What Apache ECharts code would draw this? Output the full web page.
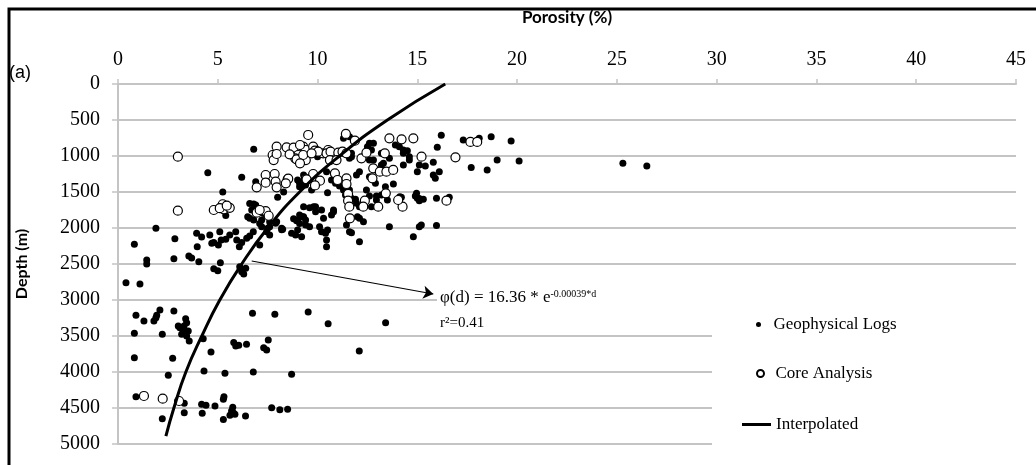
<!DOCTYPE html>
<html><head><meta charset="utf-8">
<script src="https://cdn.jsdelivr.net/npm/echarts@6/dist/echarts.min.js"></script>
<style>html,body{margin:0;padding:0;background:#fff}#c{width:1036px;height:465px}</style>
</head><body><div id="c"></div>
<script>
// [porosity %, depth m]
const geoLogs = [
[6.8,907],[9.9,894],[11.3,755],[11.6,731],[12.6,824],[12.5,870],[12.8,824],[12.7,916],[13.9,847],[14.1,870],[14.3,916],[14.5,926],[14.3,963],[16.2,712],[16.0,878],[17.3,778],[18.1,755],[18.7,731],[19.7,792],[11.7,963],[13.2,963],[10.0,1009],[11.7,1009],[14.6,1009],
[11.6,1032],[12.6,1056],[12.8,1056],[13.3,1102],[13.6,1032],[14.6,1056],[14.3,1125],[13.2,1125],[15.1,1125],[15.4,1139],[15.8,1088],[16.1,1218],[15.8,1264],[15.9,1310],[15.0,1218],[17.7,1160],[18.5,1194],[19.0,1056],[20.1,1070],[25.3,1102],[26.5,1139],[4.5,1231],[6.2,1296],[6.9,1357],[7.45,1347],[12.1,1218],[11.95,1264],[10.45,1218],[10.8,1241],[9.3,1264],[12.6,1287],[9.0,1333],
[9.4,1403],[9.1,1380],[9.1,1426],[10.7,1333],[10.9,1380],[11.1,1417],[11.3,1472],[11.5,1417],[11.6,1472],[11.9,1602],[10.5,1509],[5.25,1500],[8.0,1574],[8.3,1500],[12.45,1472],[12.6,1556],[12.95,1556],[13.5,1611],[14.2,1574],[14.9,1556],[15.0,1588],[15.1,1620],[15.3,1602],[15.1,1590],[16.6,1574],[6.8,1667],[12.9,1380],[13.4,1426],[13.8,1389],[13.2,1542],[12.95,1611],[14.12,1565],[14.96,1519],[15.96,1588],[9.7,1472],[11.4,1542],[11.7,1588],[11.95,1657],[12.7,1704],[12.1,1704],
[9.8,1704],[9.6,1718],[10.2,1750],[10.8,1750],[9.3,1704],[9.9,1704],[9.9,1773],[10.8,1773],[10.7,1820],[9.1,1820],[9.3,1843],[9.0,1889],[9.4,1958],[9.0,2028],[8.9,2097],[9.2,2120],[10.1,1982],[10.2,2051],[10.4,2074],[10.45,2167],[10.45,2259],[10.3,1866],[10.5,2028],[5.4,1825],[6.6,1866],[7.2,1889],[7.6,1981],[7.9,1935],[8.25,2019],[8.8,1870],[8.95,1898],[6.6,1658],[6.9,1681],[6.7,1750],[6.9,1796],[6.5,1843],[7.2,1982],[7.6,1912],[7.0,1750],[6.8,1889],[7.3,1797],[7.1,1936],[7.95,1912],[8.2,2023],[9.25,1843],[9.1,1936],[9.4,1889],[9.6,1982],[12.0,1843],[12.1,1866],[12.3,1912],[11.45,1958],[11.6,2051],[11.7,2065],[13.6,1982],[15.1,1982],[15.2,1958],[15.96,1967],[14.8,2120],[12.1,2190],
[1.9,2005],[0.82,2227],[1.44,2445],[1.44,2500],[0.4,2760],[1.1,2778],[2.85,2150],[2.8,2426],[3.55,2389],[3.69,2415],[4.05,2468],[3.94,2074],[4.19,2125],[3.97,2259],[4.6,2097],[4.8,2200],[5.1,2051],[5.17,2167],[5.4,2157],[5.03,2236],[4.7,2213],[5.9,2051],[5.95,2167],[6.2,2200],[6.08,2259],[6.45,2144],[6.78,2051],[7.45,2051],[7.6,2097],[7.5,2005],[6.6,2111],[7.1,2236],[4.8,2565],[5.0,2593],[5.13,2481],[6.1,2537],[6.2,2607],[6.4,2560],[6.3,2640],[8.2,2005],[8.7,2074],[5.6,2097],
[0.9,3213],[1.3,3292],[1.8,3292],[1.9,3245],[1.94,3213],[2.1,3139],[2.22,3477],[2.8,3153],[3.39,3259],[3.44,3315],[3.31,3361],[3.1,3384],[3.24,3407],[3.52,3431],[3.19,3477],[3.57,3570],[3.02,3361],[3.44,3500],[3.36,3454],[0.82,3463],[0.82,3801],[2.74,3810],[2.52,4046],[4.66,3722],[4.31,3986],[5.36,4019],[6.78,4000],[8.7,4032],[4.27,3537],[5.8,3590],[5.9,3639],[6.05,3630],[6.44,3616],[6.74,3185],[7.86,3199],[9.53,3167],[10.53,3329],[13.41,3315],[7.53,3556],[7.3,3662],[7.45,3694],[12.09,3708],[0.9,4343],[2.22,4648],[3.32,4435],[3.32,4565],[4.19,4449],[4.41,4463],[4.22,4574],[4.86,4472],[5.28,4380],[5.31,4343],[5.28,4658],[5.75,4490],[5.69,4542],[5.86,4588],[5.61,4602],[5.78,4565],[6.39,4611],[7.7,4495],[8.11,4525],[8.5,4518]
];
const coreAnalysis = [
[3.0,1009],[3.0,1760],[4.8,1750],[5.25,1670],[5.3,1740],[5.6,1720],[5.1,1725],[5.45,1690],
[6.95,1435],[7.4,1264],[7.4,1370],[7.95,870],[7.75,986],[7.8,1056],[8.45,880],[8.8,884],[9.03,986],[8.88,1032],[8.5,1324],[6.95,1787],[7.4,1765],[7.55,1830],[7.1,1750],[7.85,1250],[7.9,1357],[7.95,1435],[8.6,977],[7.95,972],[9.28,870],[9.41,917],[9.78,870],[9.87,926],[10.28,963],[10.53,917],[8.95,1046],[9.41,1056],[8.53,1315],[9.41,1320],[9.78,1250],[10.12,1343],[9.87,1408],[8.41,1380],
[9.53,708],[11.42,694],[11.87,787],[13.6,755],[14.21,769],[14.8,755],[9.12,847],[10.03,940],[9.28,986],[9.7,963],[10.45,963],[10.65,940],[11.04,954],[11.25,940],[11.45,963],[10.62,1056],[10.95,1056],[12.2,1032],[12.45,954],[13.37,963],[9.12,1102],[9.45,1324],[10.87,1241],[11.0,1333],[11.45,1310],[11.45,1389],[11.53,1528],[11.53,1620],[11.59,1704],[11.62,1866],[12.79,1171],[12.75,1310],[13.12,1218],[13.45,1218],[13.79,1194],[13.42,1519],[13.04,1704],[12.37,1620],[14.26,1704],[14.04,1611],[12.29,1704],[15.21,1009],[16.91,1019],[17.66,805],[18.0,805],[16.46,1620],
[1.3,4333],[2.24,4370],[3.06,4403]
];
const interpDepth    = [0, 500, 1000, 1500, 2000, 2500, 3000, 3500, 4000, 4500, 4890];
const interpPorosity = [16.4, 13.5, 11.1, 9.1, 7.5, 6.2, 5.1, 4.2, 3.4, 2.8, 2.4];
const arrowFrom = [6.7, 2458];
const arrowTo   = [15.8, 2917];

const serif = '"Liberation Serif", "Times New Roman", serif';
const sans = 'Lato, "Open Sans", sans-serif';
const gridColor = '#c4c4c4';

const chart = echarts.init(document.getElementById('c'));
chart.setOption({
  animation: false,
  backgroundColor: '#fff',
  grid: { left: 118, right: 20, top: 84, bottom: 21 },
  xAxis: {
    type: 'value', position: 'top', min: 0, max: 45, interval: 5,
    name: 'Porosity (%)', nameLocation: 'middle', nameGap: 58,
    nameTextStyle: { fontFamily: sans, fontWeight: 'bold', fontSize: 17, color: '#000' },
    axisLine: { show: true, onZero: false, lineStyle: { color: gridColor, width: 2 } },
    axisTick: { show: true, length: 5, lineStyle: { color: gridColor, width: 1.5 } },
    axisLabel: { fontFamily: serif, fontSize: 20, color: '#000', margin: 14 },
    splitLine: { show: false }
  },
  yAxis: {
    type: 'value', inverse: true, min: 0, max: 5000, interval: 500,
    name: 'Depth (m)', nameLocation: 'middle', nameGap: 88, nameRotate: 90,
    nameTextStyle: { fontFamily: sans, fontWeight: 'bold', fontSize: 16, color: '#000' },
    axisLine: { show: true, onZero: false, lineStyle: { color: gridColor, width: 2 } },
    axisTick: { show: true, length: 6, lineStyle: { color: gridColor, width: 1.5 } },
    axisLabel: { fontFamily: serif, fontSize: 20, color: '#000', margin: 18, formatter: v => String(v) },
    splitLine: { show: true, lineStyle: { color: gridColor, width: 2 } }
  },
  legend: [
    { data: [{ name: 'Geophysical Logs', icon: 'circle' }], left: 756, top: 316, itemWidth: 20, itemHeight: 5, padding: 0, selectedMode: false,
      textStyle: { fontFamily: serif, fontSize: 17, color: '#000' } },
    { data: [{ name: 'Core Analysis', icon: 'circle' }], left: 756, top: 365, itemWidth: 20, itemHeight: 7, padding: 0, selectedMode: false,
      textStyle: { fontFamily: serif, fontSize: 17, color: '#000' } },
    { data: [{ name: 'Interpolated', icon: 'rect' }], left: 742, top: 416, itemWidth: 29, itemHeight: 3, padding: 0, selectedMode: false,
      textStyle: { fontFamily: serif, fontSize: 17, color: '#000' } }
  ],
  graphic: [
    { type: 'rect', z: 1, shape: { x: 9, y: 9, width: 1100, height: 600 }, style: { fill: 'none', stroke: '#000', lineWidth: 3 } },
    { type: 'rect', z: 1, shape: { x: 437, y: 284, width: 600, height: 46 }, style: { fill: '#fff' } },
    { type: 'rect', z: 1, shape: { x: 712, y: 330, width: 330, height: 140 }, style: { fill: '#fff' } },
    { type: 'text', z: 5, x: 9, y: 73, style: { text: '(a)', font: '18px "Liberation Sans", Arial, sans-serif', fill: '#000', verticalAlign: 'middle' } },
    { type: 'text', z: 5, x: 440, y: 298, style: {
        text: '{a|φ(d) = 16.36 * e}{b|-0.00039*d}', verticalAlign: 'middle',
        rich: {
          a: { fontFamily: serif, fontSize: 17, color: '#000' },
          b: { fontFamily: serif, fontSize: 10, color: '#000', verticalAlign: 'top' }
        } } },
    { type: 'text', z: 5, x: 440, y: 323, style: { text: 'r²=0.41', font: '15px "Liberation Serif", serif', fill: '#000', verticalAlign: 'middle' } }
  ],
  series: [
    { name: 'Geophysical Logs', type: 'scatter', data: geoLogs, symbol: 'circle', symbolSize: 7,
      itemStyle: { color: '#000', opacity: 1 }, z: 2 },
    { name: 'Core Analysis', type: 'scatter', data: coreAnalysis, symbol: 'circle', symbolSize: 9,
      itemStyle: { color: '#fff', borderColor: '#000', borderWidth: 1.2, opacity: 1 }, z: 3 },
    { name: 'Interpolated', type: 'line', smooth: true, symbol: 'none', showSymbol: false,
      data: interpPorosity.map((p, i) => [p, interpDepth[i]]),
      lineStyle: { color: '#000', width: 3 }, itemStyle: { color: '#000' }, z: 4,
      markLine: { silent: true, symbol: ['none', 'arrow'], symbolSize: 10,
        label: { show: false }, lineStyle: { color: '#000', width: 1.2, type: 'solid' },
        data: [[{ coord: arrowFrom }, { coord: arrowTo }]] } }
  ]
});
</script></body></html>
